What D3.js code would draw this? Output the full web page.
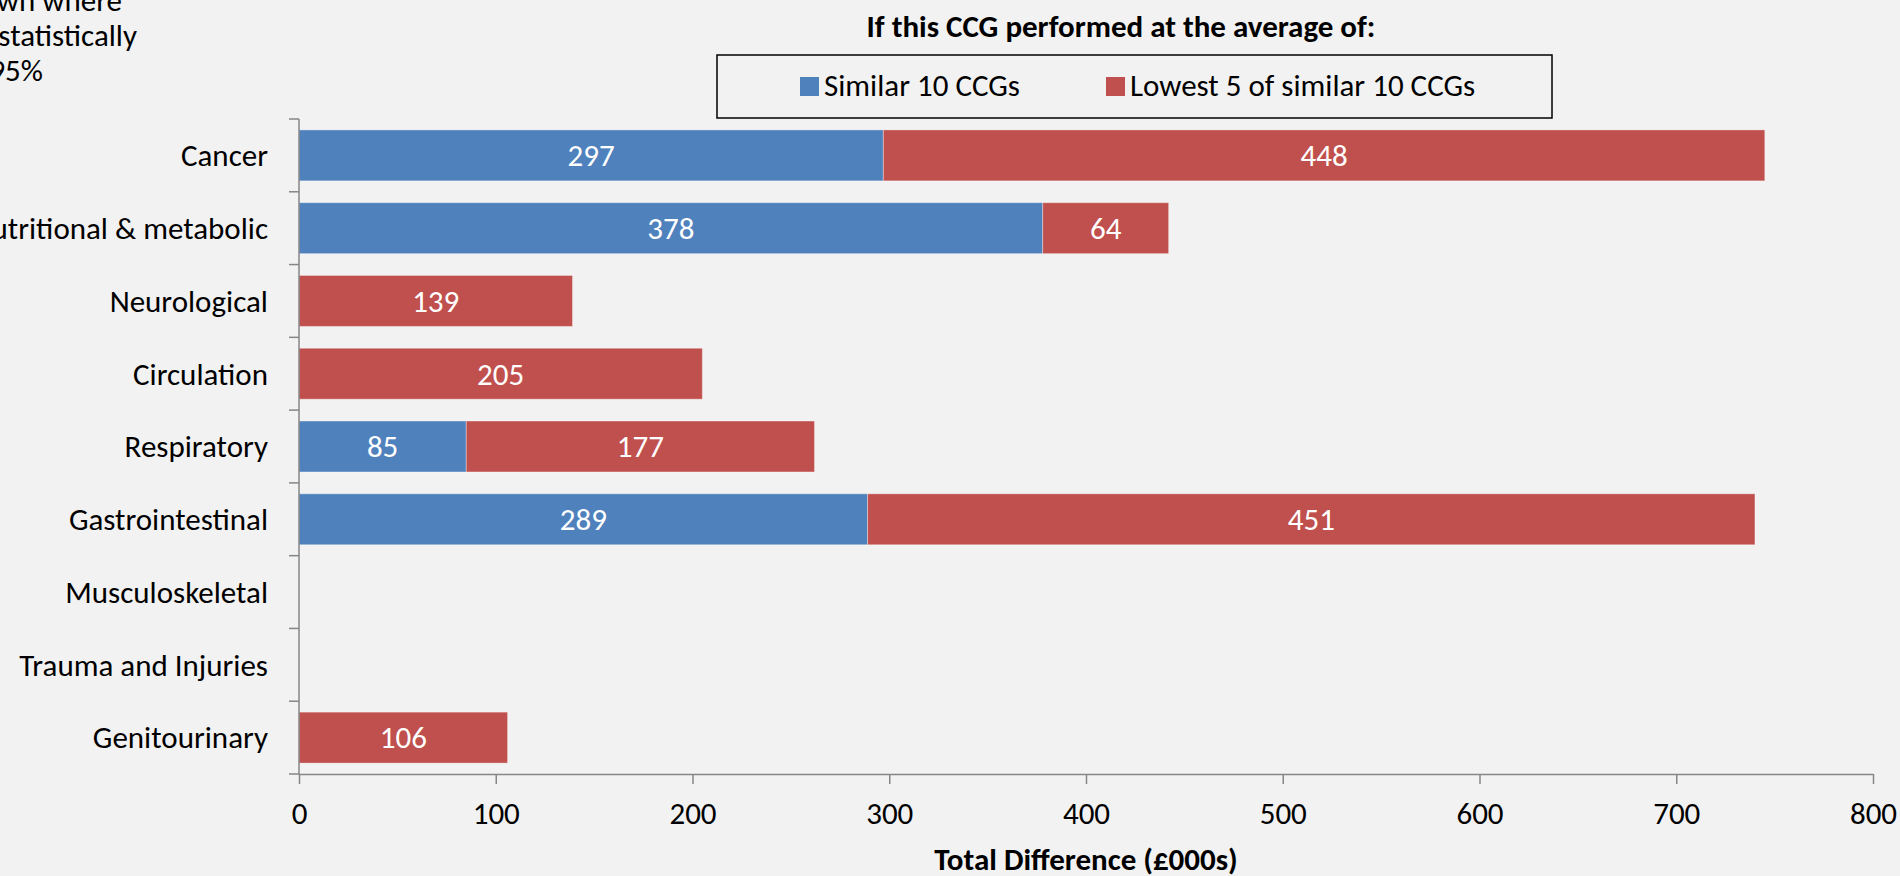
<!DOCTYPE html>
<html>
<head>
<meta charset="utf-8">
<script src="https://cdn.jsdelivr.net/npm/d3@7/dist/d3.min.js"></script>
<style>
  body { margin: 0; background: #F2F2F2; overflow: hidden; }
  svg text { font-family: Carlito, Calibri, Lato, sans-serif; fill: #000; }
</style>
</head>
<body>
<div id="canvas"></div>
<script>
const categories = ["Cancer", "Nutritional & metabolic", "Neurological", "Circulation",
  "Respiratory", "Gastrointestinal", "Musculoskeletal", "Trauma and Injuries", "Genitourinary"];
const similar10 = [297, 378, 0, 0, 85, 289, 0, 0, 0];
const lowest5 = [448, 64, 139, 205, 177, 451, 0, 0, 106];
const seriesNames = ["Similar 10 CCGs", "Lowest 5 of similar 10 CCGs"];
const seriesColors = ["#4F81BD", "#C0504D"];
const xTicks = [0, 100, 200, 300, 400, 500, 600, 700, 800];
const noteLines = ["Only shown where", "difference is statistically", "significant at 95%"];

const width = 1900, height = 876;
const fs = 31;

const svg = d3.select("#canvas").append("svg")
  .attr("width", width).attr("height", height);

svg.append("rect").attr("width", width).attr("height", height).attr("fill", "#F2F2F2");

const x = d3.scaleLinear().domain([0, 800]).range([299, 1873]);
const y = d3.scaleBand().domain(categories).range([119, 774])
  .paddingInner(0.3).paddingOuter(0.15);

const rows = categories.map((c, i) => ({cat: c, s0: similar10[i], s1: lowest5[i]}));
const stack = d3.stack().keys(["s0", "s1"])(rows);

// bars
const layers = svg.selectAll("g.layer").data(stack).enter().append("g")
  .attr("class", "layer").attr("fill", (d, i) => seriesColors[i]);

layers.selectAll("rect").data(d => d.filter(p => p[1] - p[0] > 0)).enter().append("rect")
  .attr("x", d => x(d[0]))
  .attr("y", d => y(d.data.cat))
  .attr("width", d => x(d[1]) - x(d[0]))
  .attr("height", y.bandwidth())
  .attr("stroke", "#fff").attr("stroke-opacity", 0.35).attr("stroke-width", 1);

layers.selectAll("text").data(d => d.filter(p => p[1] - p[0] > 0)).enter().append("text")
  .attr("x", d => (x(d[0]) + x(d[1])) / 2)
  .attr("y", d => y(d.data.cat) + y.bandwidth() / 2)
  .attr("text-anchor", "middle").attr("dy", "0.35em")
  .style("fill", "#fff").style("font-size", fs + "px")
  .text(d => d[1] - d[0]);

// y axis
const axisColor = "#868686";
const step = y.step();
const yBounds = categories.map(c => y(c) - y.paddingInner() * step / 2);
yBounds.push(774);
svg.append("line").attr("x1", 299).attr("x2", 299).attr("y1", 119).attr("y2", 774)
  .attr("stroke", axisColor).attr("stroke-width", 1.5);
svg.selectAll("line.ytick").data(yBounds).enter().append("line")
  .attr("class", "ytick")
  .attr("x1", 289).attr("x2", 299).attr("y1", d => d).attr("y2", d => d)
  .attr("stroke", axisColor).attr("stroke-width", 1.5);
svg.selectAll("text.ylab").data(categories).enter().append("text")
  .attr("class", "ylab")
  .attr("x", 268).attr("y", d => y(d) + y.bandwidth() / 2)
  .attr("dy", "0.35em").attr("text-anchor", "end")
  .style("font-size", fs + "px").text(d => d);

// x axis
const xAxis = svg.append("g").attr("transform", "translate(0,774)")
  .call(d3.axisBottom(x).tickValues(xTicks).tickSize(10).tickPadding(18).tickSizeOuter(0));
xAxis.select(".domain").attr("stroke", axisColor).attr("stroke-width", 1.5);
xAxis.selectAll(".tick line").attr("stroke", axisColor).attr("stroke-width", 1.5);
xAxis.selectAll(".tick text").style("font-size", fs + "px")
  .style("font-family", "Carlito, Calibri, Lato, sans-serif").attr("fill", "#000");

svg.append("text").attr("x", 1086).attr("y", 870).attr("text-anchor", "middle")
  .style("font-size", fs + "px").style("font-weight", "bold")
  .text("Total Difference (£000s)");

// legend
svg.append("text").attr("x", 1121).attr("y", 37).attr("text-anchor", "middle")
  .style("font-size", fs + "px").style("font-weight", "bold")
  .text("If this CCG performed at the average of:");
svg.append("rect").attr("x", 717).attr("y", 55).attr("width", 835).attr("height", 63)
  .attr("fill", "none").attr("stroke", "#000").attr("stroke-width", 1.5);
const legX = [800, 1106];
const leg = svg.selectAll("g.leg").data(seriesNames).enter().append("g")
  .attr("class", "leg").attr("transform", (d, i) => `translate(${legX[i]},77)`);
leg.append("rect").attr("width", 19).attr("height", 19).attr("fill", (d, i) => seriesColors[i]);
leg.append("text").attr("x", 24).attr("y", 19).style("font-size", fs + "px").text(d => d);

// note at top-left (partly cut off, as in the original)
const noteEnd = [122, 137, 43];
svg.selectAll("text.note").data(noteLines).enter().append("text")
  .attr("class", "note")
  .attr("x", (d, i) => noteEnd[i]).attr("y", (d, i) => 11 + i * 35)
  .attr("text-anchor", "end").style("font-size", fs + "px").text(d => d);
</script>
</body>
</html>
